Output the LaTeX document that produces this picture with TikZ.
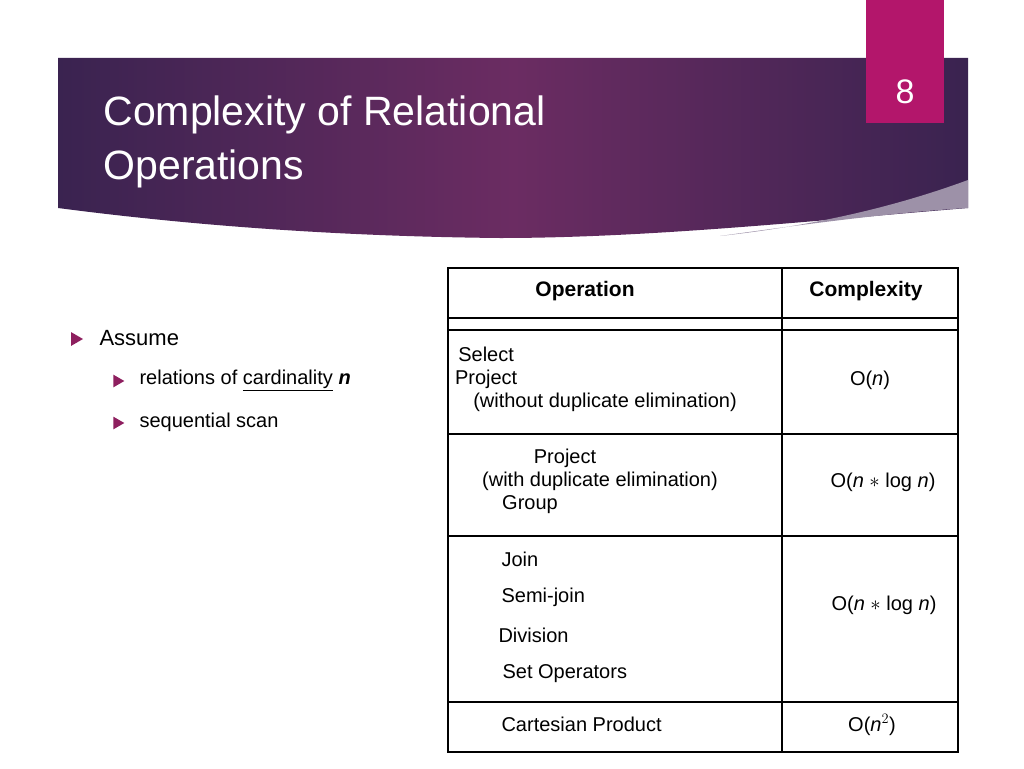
\documentclass[tikz,border=0pt]{standalone}
\usepackage{fontspec}
\setmainfont{Liberation Sans}
\usetikzlibrary{shapes.geometric}
\definecolor{bandA}{HTML}{3A2350}
\definecolor{bandB}{HTML}{6B2C62}
\definecolor{pagebox}{HTML}{B3166B}
\definecolor{bul}{HTML}{8E1F5F}
\tikzset{
  cell/.style={font=\fontsize{20}{23}\selectfont, align=center},
  btxt/.style={font=\fontsize{22}{26}\selectfont, anchor=west},
  stxt/.style={font=\fontsize{20}{24}\selectfont, anchor=west},
  bullet/.style={fill=bul, isosceles triangle, isosceles triangle apex angle=60, inner sep=0pt, minimum height=#1},
  tline/.style={line width=1.6pt}
}
\begin{document}
\begin{tikzpicture}[x=1pt,y=-1pt]
\useasboundingbox (0,0) rectangle (1024,768);
\fill[white] (0,0) rectangle (1024,768);
% header band
\shade[left color=bandA, right color=bandA, middle color=bandB]
  (58,58) -- (968,58) -- (968,208) .. controls (820,220) and (650,238) .. (500,238)
  .. controls (300,236) and (150,220) .. (58,208) -- cycle;
\fill[white!50!bandA] (968,180) .. controls (900,205) and (820,225) .. (720,236)
  .. controls (820,222) and (900,212) .. (968,208) -- cycle;
\node[anchor=north west, text=white, align=left, font=\fontsize{41}{54}\selectfont] (title) at (100,92) {Complexity of Relational\\Operations};
\fill[pagebox] (866,0) rectangle (944,123);
\node[text=white, font=\fontsize{34}{40}\selectfont] (pg) at (905,92) {8};
% bullets
\node[bullet=12pt] (b1) at (75,339) {};
\node[btxt] (t1) at (96,338) {Assume};
\node[bullet=11pt] (b2) at (117,381) {};
\node[stxt] (t2) at (136,380) {relations of \underline{cardinality} \textbf{\textit{n}}};
\node[bullet=11pt] (b3) at (117,423) {};
\node[stxt] (t3) at (136,422) {sequential scan};
% table
\draw[tline] (448,268) rectangle (958,752);
\draw[tline] (782,268) -- (782,752);
\draw[tline] (448,318) -- (958,318);
\draw[tline] (448,330) -- (958,330);
\draw[tline] (448,434) -- (958,434);
\draw[tline] (448,536) -- (958,536);
\draw[tline] (448,702) -- (958,702);
\node[cell, font=\fontsize{21}{24}\selectfont\bfseries] (h1) at (585,291) {Operation};
\node[cell, font=\fontsize{21}{24}\selectfont\bfseries] (h2) at (866,291) {Complexity};
\node[cell] (r1) at (605,379) {\hspace*{-150pt}Select\\\hspace*{-150pt}Project\\(without duplicate elimination)};
\node[cell] (c1) at (870,380) {O(\textit{n})};
\node[cell] (r2) at (600,481) {\hspace*{-70pt}Project\\(with duplicate elimination)\\\hspace*{-140pt}Group};
\node[cell] (c2) at (883,482) {O(\textit{n} $*$ log \textit{n})};
\node[cell, anchor=west] (j1) at (498,559) {Join};
\node[cell, anchor=west] (j2) at (498,597) {Semi-join};
\node[cell, anchor=west] (j3) at (495,635) {Division};
\node[cell, anchor=west] (j4) at (499,674) {Set Operators};
\node[cell] (c3) at (884,605) {O(\textit{n} $*$ log \textit{n})};
\node[cell, anchor=west] (r4) at (498,724) {Cartesian Product};
\node[cell] (c4) at (872,725) {O(\textit{n}$^{2}$)};
\end{tikzpicture}
\end{document}
